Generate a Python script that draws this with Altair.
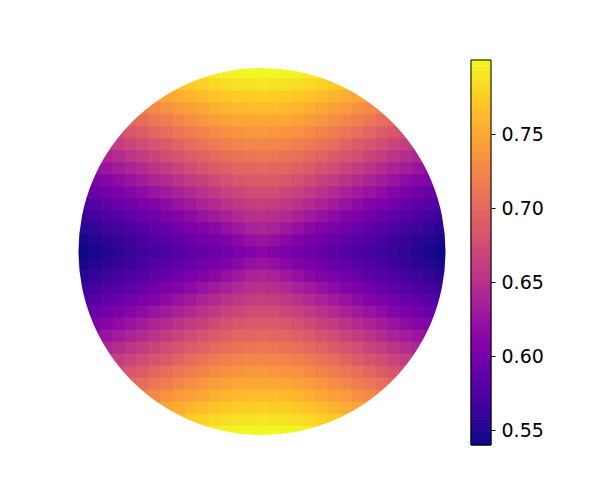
import math
import altair as alt
import pandas as pd

# Disk heat map, one quadrant (symmetric left/right and top/bottom).
# QUAD[j][i]: j = rows away from the horizontal centre line, i = columns away from the vertical centre line
QUAD = [
    [0.613, 0.608, 0.603, 0.598, 0.594, 0.589, 0.584, 0.579, 0.574, 0.569, 0.564, 0.559, 0.555, 0.550, 0.545, 0.540],
    [0.625, 0.621, 0.614, 0.607, 0.601, 0.596, 0.590, 0.585, 0.580, 0.575, 0.570, 0.564, 0.559, 0.554, 0.549, 0.544],
    [0.638, 0.635, 0.628, 0.621, 0.614, 0.608, 0.602, 0.596, 0.590, 0.584, 0.579, 0.573, 0.568, 0.562, 0.557, 0.552],
    [0.650, 0.648, 0.643, 0.636, 0.629, 0.622, 0.615, 0.609, 0.602, 0.596, 0.590, 0.584, 0.578, 0.573, 0.567, 0.562],
    [0.663, 0.661, 0.657, 0.651, 0.644, 0.637, 0.630, 0.623, 0.616, 0.609, 0.603, 0.597, 0.590, 0.584, 0.579, 0.573],
    [0.675, 0.674, 0.670, 0.665, 0.658, 0.651, 0.644, 0.637, 0.630, 0.623, 0.617, 0.610, 0.603, 0.597, 0.591, 0.585],
    [0.688, 0.687, 0.684, 0.679, 0.673, 0.666, 0.659, 0.652, 0.645, 0.638, 0.631, 0.624, 0.617, 0.611, 0.604],
    [0.700, 0.699, 0.697, 0.692, 0.687, 0.681, 0.674, 0.667, 0.660, 0.653, 0.645, 0.638, 0.632, 0.625, 0.618],
    [0.713, 0.712, 0.709, 0.706, 0.701, 0.695, 0.688, 0.682, 0.675, 0.667, 0.660, 0.653, 0.646, 0.639],
    [0.725, 0.724, 0.722, 0.719, 0.714, 0.709, 0.703, 0.696, 0.689, 0.682, 0.675, 0.668, 0.661, 0.654],
    [0.738, 0.737, 0.735, 0.732, 0.728, 0.723, 0.717, 0.710, 0.704, 0.697, 0.690, 0.683, 0.676],
    [0.750, 0.749, 0.748, 0.745, 0.741, 0.736, 0.731, 0.725, 0.718, 0.712, 0.705, 0.698],
    [0.763, 0.762, 0.760, 0.758, 0.754, 0.749, 0.744, 0.739, 0.733, 0.726, 0.719],
    [0.775, 0.774, 0.773, 0.770, 0.767, 0.763, 0.758, 0.753, 0.747, 0.740],
    [0.788, 0.787, 0.786, 0.783, 0.780, 0.776, 0.772, 0.766],
    [0.800, 0.800, 0.798, 0.796, 0.793, 0.789],
]

COLOR_DOMAIN = [0.54, 0.80]
TICKS = [0.55, 0.60, 0.65, 0.70, 0.75]

# Build the full disk by mirroring the quadrant
cells = []
for j, row in enumerate(QUAD):
    for i, v in enumerate(row):
        for sx in ([1] if i == 0 else [1, -1]):
            for sy in ([1] if j == 0 else [1, -1]):
                x, y = sx * i, sy * j
                cells.append({"x0": x - 0.5, "x1": x + 0.5, "y0": y - 0.5, "y1": y + 0.5, "v": v})
disk_df = pd.DataFrame(cells)

# Colour bar made of the distinct data levels
levels = sorted(set(disk_df["v"]))
cb_df = pd.DataFrame({"lo": levels[:-1], "hi": levels[1:]})

cscale = alt.Scale(scheme="plasma", domain=COLOR_DOMAIN)

disk = alt.Chart(disk_df).mark_rect(strokeWidth=0.6).encode(
    x=alt.X("x0:Q", scale=alt.Scale(domain=[-15.5, 15.5], nice=False, zero=False), axis=None),
    x2="x1:Q",
    y=alt.Y("y0:Q", scale=alt.Scale(domain=[-16.0833, 16.0], nice=False, zero=False), axis=None),
    y2="y1:Q",
    color=alt.Color("v:Q", scale=cscale, legend=None),
    stroke=alt.Stroke("v:Q", scale=cscale, legend=None),
)

# white ring that rounds off the stair-stepped rim of the cells
mask = alt.Chart(pd.DataFrame({"a": [0]})).mark_arc(
    theta=0, theta2=2 * math.pi, innerRadius=183.5, outerRadius=204, color="white"
).encode(x=alt.value(186), y=alt.value(191.5))

cbar = alt.Chart(cb_df).mark_rect(strokeWidth=1).encode(
    x=alt.value(395),
    x2=alt.value(415),
    y=alt.Y(
        "lo:Q",
        scale=alt.Scale(domain=COLOR_DOMAIN, nice=False, zero=False),
        axis=alt.Axis(
            orient="right", offset=43, values=TICKS, format=".2f",
            labelFontSize=19, labelFont="DejaVu Sans", labelColor="black",
            tickColor="black", tickSize=4, tickWidth=1, labelPadding=6,
            domain=False, grid=False, title=None, labelFlush=False, labelOverlap=False,
        ),
    ),
    y2="hi:Q",
    color=alt.Color("lo:Q", scale=cscale, legend=None),
    stroke=alt.Stroke("lo:Q", scale=cscale, legend=None),
)

outline = alt.Chart(pd.DataFrame({"a": [0]})).mark_rect(
    filled=False, stroke="black", strokeWidth=1
).encode(x=alt.value(395), x2=alt.value(415), y=alt.value(0), y2=alt.value(385))

chart = (
    alt.layer(disk, mask, cbar, outline)
    .resolve_scale(y="independent")
    .properties(
        width=372, height=385, autosize="none",
        padding={"left": 68, "top": 52, "right": 120, "bottom": 20},
    )
    .configure_view(stroke=None)
)

chart.save("out.html", embed_options={"renderer": "svg", "actions": False})
